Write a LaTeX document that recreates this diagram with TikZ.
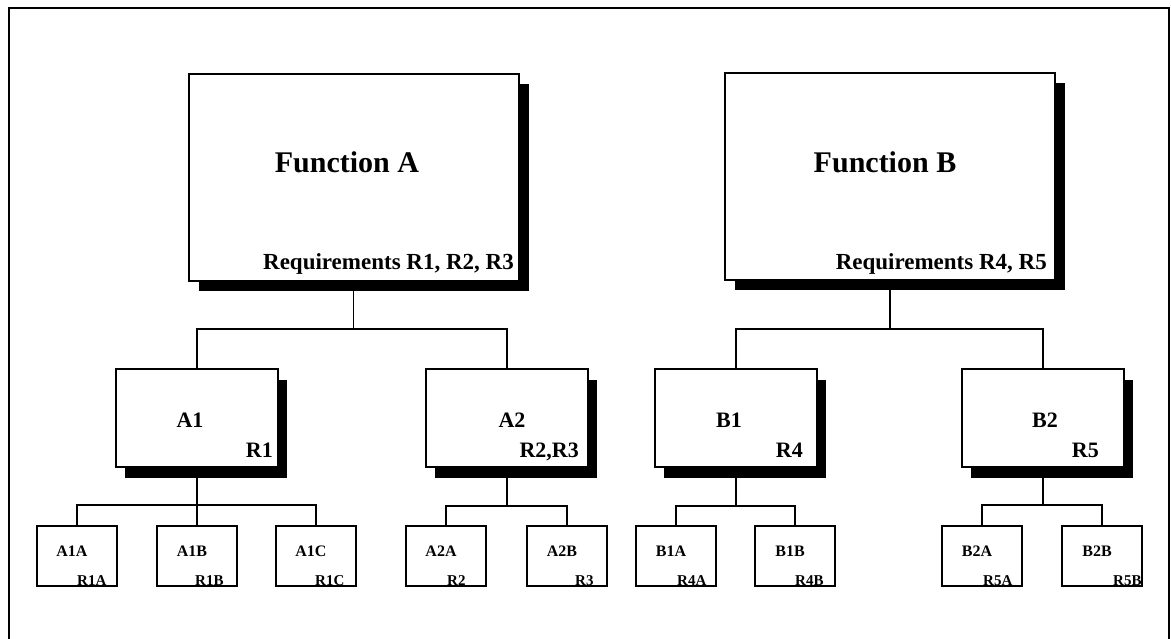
\documentclass[tikz,border=0pt]{standalone}
\usepackage{fontspec}
\setmainfont{Liberation Serif}
\usetikzlibrary{shadows}

\begin{document}
\begin{tikzpicture}[x=1pt, y=-1pt,
    box/.style={draw=black, fill=white, line width=2pt, inner sep=0pt},
    bigbox/.style={box, minimum width=330pt, minimum height=207pt,
        drop shadow={shadow xshift=10pt, shadow yshift=-10pt, opacity=1, fill=black}},
    midbox/.style={box, minimum width=162pt, minimum height=98pt,
        drop shadow={shadow xshift=9pt, shadow yshift=-11pt, opacity=1, fill=black}},
    smallbox/.style={box, minimum width=80pt, minimum height=60pt},
    link/.style={line width=1.9pt},
    bigtxt/.style={font=\bfseries\fontsize{30}{30}\selectfont, anchor=base, inner sep=0pt},
    reqtxt/.style={font=\bfseries\fontsize{23}{23}\selectfont, anchor=base east, inner sep=0pt},
    midtxt/.style={font=\bfseries\fontsize{22}{22}\selectfont, inner sep=0pt},
    smalltxt/.style={font=\bfseries\fontsize{16}{16}\selectfont, anchor=base, inner sep=0pt},
    smallreq/.style={font=\bfseries\fontsize{15}{15}\selectfont, anchor=base west, inner sep=0pt}]

        % pagina e cornice
        \useasboundingbox (0,0) rectangle (1171,639);
        \draw[line width=2.6pt] (9,639) -- (9,8) -- (1169,8) -- (1169,639);

        % punti di giunzione dei collegamenti
        \coordinate (ja) at (353.5,329);
        \coordinate (jb) at (890,329);
        \coordinate (ja1) at (197,505);
        \coordinate (ja2) at (507,506);
        \coordinate (jb1) at (736,506);
        \coordinate (jb2) at (1043,505);

        % funzioni principali
        \node[bigbox] (fa) at (353.5,177.5) {};
        \node[bigtxt] (fa-t) at (347,173) {Function A};
        \node[reqtxt] (fa-r) at (514,270) {Requirements R1, R2, R3};

        \node[bigbox] (fb) at (890,176.5) {};
        \node[bigtxt] (fb-t) at (885,173) {Function B};
        \node[reqtxt] (fb-r) at (1047,270) {Requirements R4, R5};

        % secondo livello
        \node[midbox] (a1) at (197,418) {};
        \node[midtxt, anchor=base] (a1-t) at (190,427) {A1};
        \node[midtxt, anchor=base east] (a1-r) at (273,457) {R1};

        \node[midbox] (a2) at (507,418) {};
        \node[midtxt, anchor=base] (a2-t) at (512,427) {A2};
        \node[midtxt, anchor=base east] (a2-r) at (579,457) {R2,R3};

        \node[midbox] (b1) at (736,418) {};
        \node[midtxt, anchor=base] (b1-t) at (729,427) {B1};
        \node[midtxt, anchor=base east] (b1-r) at (803,457) {R4};

        \node[midbox] (b2) at (1043,418) {};
        \node[midtxt, anchor=base] (b2-t) at (1045,427) {B2};
        \node[midtxt, anchor=base east] (b2-r) at (1099,457) {R5};

        % terzo livello
        \node[smallbox] (a1a) at (77,556) {};
        \node[smalltxt] (a1a-t) at (72,556) {A1A};
        \node[smallreq] (a1a-r) at (77,585) {R1A};

        \node[smallbox] (a1b) at (197,556) {};
        \node[smalltxt] (a1b-t) at (192,556) {A1B};
        \node[smallreq] (a1b-r) at (195,585) {R1B};

        \node[smallbox] (a1c) at (316,556) {};
        \node[smalltxt] (a1c-t) at (311,556) {A1C};
        \node[smallreq] (a1c-r) at (315,585) {R1C};

        \node[smallbox] (a2a) at (446,556) {};
        \node[smalltxt] (a2a-t) at (441,556) {A2A};
        \node[smallreq] (a2a-r) at (447,585) {R2};

        \node[smallbox] (a2b) at (567,556) {};
        \node[smalltxt] (a2b-t) at (562,556) {A2B};
        \node[smallreq] (a2b-r) at (575,585) {R3};

        \node[smallbox] (b1a) at (676,556) {};
        \node[smalltxt] (b1a-t) at (671,556) {B1A};
        \node[smallreq] (b1a-r) at (677,585) {R4A};

        \node[smallbox] (b1b) at (795,556) {};
        \node[smalltxt] (b1b-t) at (790,556) {B1B};
        \node[smallreq] (b1b-r) at (795,585) {R4B};

        \node[smallbox] (b2a) at (982,556) {};
        \node[smalltxt] (b2a-t) at (977,556) {B2A};
        \node[smallreq] (b2a-r) at (983,585) {R5A};

        \node[smallbox] (b2b) at (1102,556) {};
        \node[smalltxt] (b2b-t) at (1097,556) {B2B};
        \node[smallreq] (b2b-r) at (1113,585) {R5B};

        % collegamenti
        \draw[link] (fa.south) -- (ja);
        \draw[link] (a1.north) |- (ja) -| (a2.north);
        \draw[link] (fb.south) -- (jb);
        \draw[link] (b1.north) |- (jb) -| (b2.north);

        \draw[link] (a1.south) -- (a1b.north);
        \draw[link] (a1a.north) |- (ja1) -| (a1c.north);
        \draw[link] (a2.south) -- (ja2);
        \draw[link] (a2a.north) |- (ja2) -| (a2b.north);
        \draw[link] (b1.south) -- (jb1);
        \draw[link] (b1a.north) |- (jb1) -| (b1b.north);
        \draw[link] (b2.south) -- (jb2);
        \draw[link] (b2a.north) |- (jb2) -| (b2b.north);

    \end{tikzpicture}
\end{document}
